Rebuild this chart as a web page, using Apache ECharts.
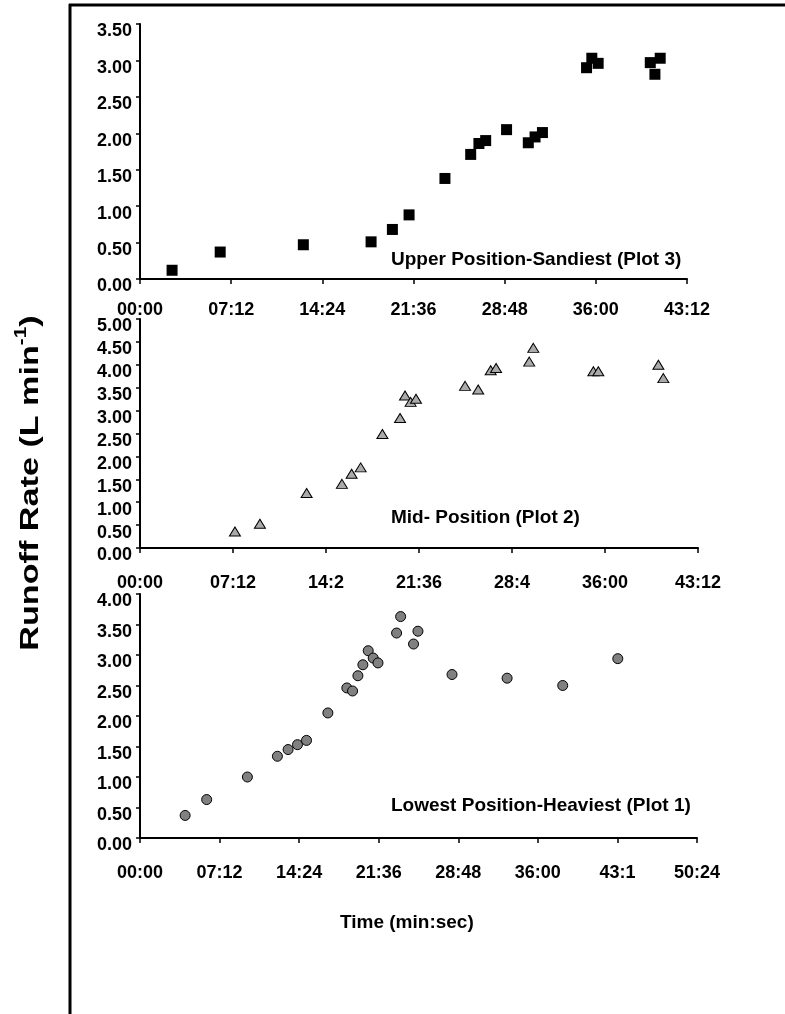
<!DOCTYPE html>
<html>
<head>
<meta charset="utf-8">
<script src="https://cdn.jsdelivr.net/npm/echarts@6/dist/echarts.min.js"></script>
<style>
html,body{margin:0;padding:0;background:#fff;}
#chart{width:785px;height:1014px;}
</style>
</head>
<body>
<div id="chart"></div>
<script>
// Time in seconds, runoff rate in L/min
var upperTimes = [152, 380, 774, 1095, 1196, 1275, 1445, 1567, 1606, 1638, 1737, 1840, 1872, 1907, 2116, 2141, 2171, 2418, 2440, 2465];
var upperRates = [0.12, 0.37, 0.47, 0.51, 0.68, 0.88, 1.38, 1.71, 1.86, 1.90, 2.05, 1.87, 1.95, 2.01, 2.90, 3.03, 2.96, 2.97, 2.81, 3.03];

var midTimes = [441, 557, 774, 938, 983, 1025, 1126, 1208, 1231, 1257, 1282, 1510, 1571, 1629, 1654, 1808, 1827, 2106, 2129, 2408, 2431];
var midRates = [0.36, 0.53, 1.20, 1.40, 1.62, 1.76, 2.49, 2.84, 3.33, 3.19, 3.26, 3.54, 3.46, 3.88, 3.93, 4.07, 4.37, 3.86, 3.86, 4.00, 3.71];

var lowTimes = [245, 362, 583, 746, 804, 855, 904, 1020, 1123, 1154, 1183, 1210, 1239, 1266, 1292, 1393, 1415, 1485, 1509, 1694, 1993, 2295, 2594];
var lowRates = [0.37, 0.63, 1.00, 1.34, 1.45, 1.53, 1.60, 2.05, 2.46, 2.41, 2.66, 2.84, 3.07, 2.95, 2.87, 3.36, 3.63, 3.18, 3.39, 2.68, 2.62, 2.50, 2.94];

var upperXLabels = ["00:00", "07:12", "14:24", "21:36", "28:48", "36:00", "43:12"];
var midXLabels = ["00:00", "07:12", "14:2", "21:36", "28:4", "36:00", "43:12"];
var lowXLabels = ["00:00", "07:12", "14:24", "21:36", "28:48", "36:00", "43:1", "50:24"];

var upperYMax = 3.5, midYMax = 5, lowYMax = 4;
var xStep = 432;

var FONT = '"Liberation Sans", Arial, sans-serif';

function pairs(xs, ys) { return xs.map(function (x, i) { return [x, ys[i]]; }); }

function xAxis(gi, labels, margin) {
  return {
    type: 'value', gridIndex: gi, min: 0, max: xStep * (labels.length - 1), interval: xStep,
    axisLine: { show: true, onZero: false, lineStyle: { color: '#000', width: 2 } },
    axisTick: { show: true, inside: false, length: 5, lineStyle: { color: '#000', width: 1.5 } },
    splitLine: { show: false },
    axisLabel: {
      margin: margin, color: '#000', fontFamily: FONT, fontWeight: 'bold', fontSize: 18,
      showMinLabel: true, showMaxLabel: true, hideOverlap: false,
      formatter: function (v) { return labels[Math.round(v / xStep)]; }
    }
  };
}
function yAxis(gi, max) {
  return {
    type: 'value', gridIndex: gi, min: 0, max: max, interval: 0.5,
    axisLine: { show: true, lineStyle: { color: '#000', width: 2 } },
    axisTick: { show: true, inside: false, length: 4, lineStyle: { color: '#000', width: 1.5 } },
    splitLine: { show: false },
    axisLabel: {
      margin: 8, color: '#000', fontFamily: FONT, fontWeight: 'bold', fontSize: 18,
      verticalAlign: 'top', lineHeight: 15, showMinLabel: true, showMaxLabel: true, hideOverlap: false,
      formatter: function (v) { return v.toFixed(2); }
    }
  };
}

var chart = echarts.init(document.getElementById('chart'), null, { renderer: 'canvas' });
chart.setOption({
  animation: false,
  backgroundColor: '#fff',
  grid: [
    { left: 140, top: 24, width: 547, height: 255, containLabel: false },
    { left: 140, top: 319, width: 558, height: 229, containLabel: false },
    { left: 140, top: 594, width: 557, height: 244, containLabel: false }
  ],
  xAxis: [xAxis(0, upperXLabels, 22), xAxis(1, midXLabels, 26), xAxis(2, lowXLabels, 26)],
  yAxis: [yAxis(0, upperYMax), yAxis(1, midYMax), yAxis(2, lowYMax)],
  series: [
    { type: 'scatter', xAxisIndex: 0, yAxisIndex: 0, data: pairs(upperTimes, upperRates),
      symbol: 'rect', symbolSize: 11, itemStyle: { color: '#000', opacity: 1 } },
    { type: 'scatter', xAxisIndex: 1, yAxisIndex: 1, data: pairs(midTimes, midRates),
      symbol: 'triangle', symbolSize: [11, 9], itemStyle: { color: '#aaaaaa', borderColor: '#000', borderWidth: 1, opacity: 1 } },
    { type: 'scatter', xAxisIndex: 2, yAxisIndex: 2, data: pairs(lowTimes, lowRates),
      symbol: 'circle', symbolSize: 10, itemStyle: { color: '#808080', borderColor: '#000', borderWidth: 1, opacity: 1 } }
  ],
  graphic: [
    { type: 'line', shape: { x1: 70, y1: 4, x2: 70, y2: 1014 }, style: { stroke: '#000', lineWidth: 3 } },
    { type: 'line', shape: { x1: 69, y1: 5, x2: 785, y2: 5 }, style: { stroke: '#000', lineWidth: 3 } },
    { type: 'text', x: 391, y: 260, style: { text: 'Upper Position-Sandiest (Plot 3)', font: 'bold 19px ' + FONT, fill: '#000', verticalAlign: 'middle', align: 'left' } },
    { type: 'text', x: 391, y: 518, style: { text: 'Mid- Position (Plot 2)', font: 'bold 19px ' + FONT, fill: '#000', verticalAlign: 'middle', align: 'left' } },
    { type: 'text', x: 391, y: 806, style: { text: 'Lowest Position-Heaviest (Plot 1)', font: 'bold 19px ' + FONT, fill: '#000', verticalAlign: 'middle', align: 'left' } },
    { type: 'text', x: 340, y: 923, style: { text: 'Time (min:sec)', font: 'bold 19px ' + FONT, fill: '#000', verticalAlign: 'middle', align: 'left' } },
    { type: 'text', x: 29, y: 483, rotation: Math.PI / 2, scaleX: 1.22, scaleY: 0.95,
      style: {
        text: '{a|Runoff Rate (L min}{s|-1}{a|)}',
        align: 'center', verticalAlign: 'middle', fill: '#000',
        rich: {
          a: { fontFamily: FONT, fontWeight: 'bold', fontSize: 28, lineHeight: 32, verticalAlign: 'bottom' },
          s: { fontFamily: FONT, fontWeight: 'bold', fontSize: 17, lineHeight: 32, verticalAlign: 'top', padding: [0, 0, 12, 0] }
        }
      } }
  ]
});
</script>
</body>
</html>
